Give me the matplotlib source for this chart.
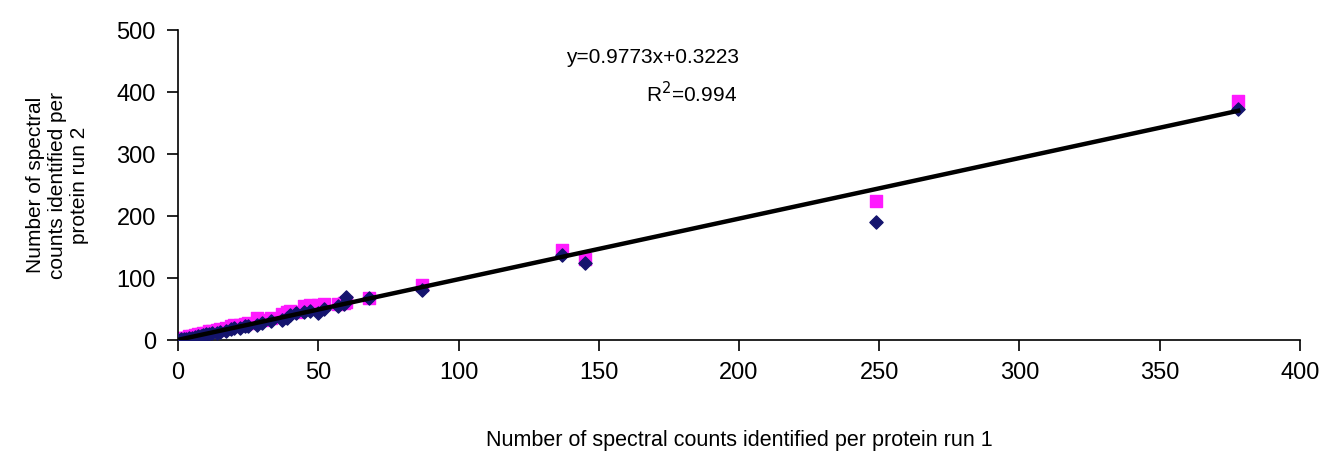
import numpy as np
import matplotlib.pyplot as plt

plt.rcParams['font.family'] = ['Liberation Sans Narrow', 'Liberation Sans', 'DejaVu Sans']

# spectral counts, run 1 (x) and two replicate sets for run 2 (y)
run1 = [0, 1, 2, 3, 4, 5, 6, 7, 8, 9, 10, 11, 12, 14, 15, 17, 19, 20, 22, 24,
        25, 28, 30, 33, 37, 39, 40, 42, 45, 47, 50, 52, 57, 59, 60, 68, 87,
        137, 145, 249, 378]
run2_a = [0, 1, 2, 2, 3, 4, 5, 7, 7, 8, 9, 10, 12, 12, 13, 15, 17, 19, 20, 22,
          23, 24, 27, 30, 32, 36, 40, 43, 45, 47, 43, 50, 55, 58, 70, 67, 80,
          137, 124, 190, 372]
run2_b = [2, 3, 4, 4, 6, 6, 8, 9, 10, 11, 12, 14, 15, 16, 18, 20, 22, 25, 24,
          26, 28, 35, 33, 36, 42, 45, 47, 46, 55, 57, 56, 58, 58, 60, 62, 68,
          88, 145, 130, 225, 385]

slope, intercept = 0.9773, 0.3223

fig = plt.figure(figsize=(13.19, 4.69), dpi=100)
ax = fig.add_axes([0.135, 0.275, 0.8505, 0.661])

ax.scatter(run1, run2_a, marker='D', s=45, color='#14146e', zorder=3)
ax.scatter(run1, run2_b, marker='s', s=70, color='#ff1aff', zorder=2)

xfit = np.array([0, max(run1)])
ax.plot(xfit, slope * xfit + intercept, color='black', lw=3.2, zorder=4)

ax.text(169, 456, 'y=0.9773x+0.3223', ha='center', va='center', fontsize=15)
ax.text(183, 398, r'R$^2$=0.994', ha='center', va='center', fontsize=15)

ax.set_xlim(0, 400)
ax.set_ylim(0, 500)
ax.set_xticks(range(0, 401, 50))
ax.set_yticks(range(0, 501, 100))
for s in ['top', 'right']:
    ax.spines[s].set_visible(False)
for s in ['left', 'bottom']:
    ax.spines[s].set_linewidth(1.2)
ax.tick_params(direction='out', length=8, width=1.2, labelsize=17, pad=8)

ax.set_xlabel('Number of spectral counts identified per protein run 1',
              fontsize=15.5, labelpad=33)
ax.set_ylabel('Number of spectral\ncounts identified per\nprotein run 2',
              fontsize=15, labelpad=20, linespacing=1.2)

fig.savefig('out.png', dpi=100)
